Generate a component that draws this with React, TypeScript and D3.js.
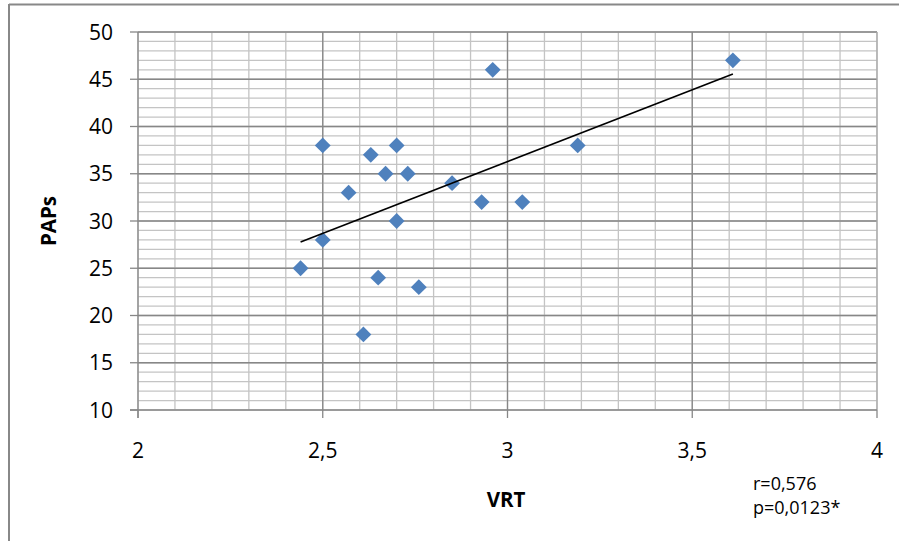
import React from "react";
import * as d3 from "d3";

// VRT (x) vs PAPs (y) per patient
const vrtValues = [2.44, 2.5, 2.5, 2.57, 2.61, 2.63, 2.65, 2.67, 2.7, 2.7, 2.73, 2.76, 2.85, 2.93, 2.96, 3.04, 3.19, 3.61];
const papsValues = [25, 38, 28, 33, 18, 37, 24, 35, 38, 30, 35, 23, 34, 32, 46, 32, 38, 47];

const xTicks = [2, 2.5, 3, 3.5, 4];
const yTicks = [10, 15, 20, 25, 30, 35, 40, 45, 50];
const statLines = ["r=0,576", "p=0,0123*"];

const W = 899;
const H = 541;
const left = 138;
const right = 877;
const top = 32;
const bottom = 410;

const FONT = "'Open Sans', 'Noto Sans', sans-serif";

export default function App() {
  const x = d3.scaleLinear().domain([2, 4]).range([left, right]);
  const y = d3.scaleLinear().domain([10, 50]).range([bottom, top]);

  const fmt = (v: number) => String(v).replace(".", ",");

  // least-squares trend line over the observed VRT range
  const mx = d3.mean(vrtValues)!;
  const my = d3.mean(papsValues)!;
  const sxy = d3.sum(vrtValues, (v, i) => (v - mx) * (papsValues[i] - my));
  const sxx = d3.sum(vrtValues, (v) => (v - mx) * (v - mx));
  const slope = sxy / sxx;
  const intercept = my - slope * mx;
  const [x0, x1] = d3.extent(vrtValues) as [number, number];
  const trend = d3.line<number>().x((v) => x(v)).y((v) => y(intercept + slope * v))([x0, x1]);

  const minorX = d3.range(2, 4.0001, 0.1).map((v) => +v.toFixed(2));
  const minorY = d3.range(10, 50.001, 1);

  const diamond = d3.symbol().type(d3.symbolDiamond2).size(160)();

  return (
    <svg width={W} height={H} style={{ position: "absolute", left: 0, top: 0, background: "#fff" }}>
      {/* outer chart frame */}
      <line x1={9} y1={4.5} x2={W} y2={4.5} stroke="#888" strokeWidth={2} />
      <line x1={9} y1={4} x2={9} y2={H} stroke="#888" strokeWidth={2} />

      {/* minor grid */}
      {minorX.map((v) => (
        <line key={"mx" + v} x1={x(v)} x2={x(v)} y1={top} y2={bottom} stroke="#c4c4c4" strokeWidth={1.3} />
      ))}
      {minorY.map((v) => (
        <line key={"my" + v} x1={left} x2={right} y1={y(v)} y2={y(v)} stroke="#c4c4c4" strokeWidth={1.3} />
      ))}
      {/* major grid */}
      {xTicks.slice(1, -1).map((v) => (
        <line key={"gx" + v} x1={x(v)} x2={x(v)} y1={top} y2={bottom} stroke="#878787" strokeWidth={1.3} />
      ))}
      {yTicks.slice(1).map((v) => (
        <line key={"gy" + v} x1={left} x2={right} y1={y(v)} y2={y(v)} stroke="#878787" strokeWidth={1.3} />
      ))}
      <line x1={right} x2={right} y1={top} y2={bottom} stroke="#aaa" strokeWidth={1.3} />

      {/* axes */}
      <line x1={left} x2={left} y1={top} y2={bottom + 8} stroke="#878787" strokeWidth={1.3} />
      <line x1={left - 8} x2={right} y1={bottom} y2={bottom} stroke="#878787" strokeWidth={1.3} />
      {yTicks.map((v) => (
        <g key={"yt" + v}>
          <line x1={left - 8} x2={left} y1={y(v)} y2={y(v)} stroke="#878787" strokeWidth={1.3} />
          <text x={113} y={y(v)} dy="0.36em" textAnchor="end" fontFamily={FONT} fontSize={21} fill="#000">
            {v}
          </text>
        </g>
      ))}
      {xTicks.map((v) => (
        <g key={"xt" + v}>
          <line x1={x(v)} x2={x(v)} y1={bottom} y2={bottom + 8} stroke="#878787" strokeWidth={1.3} />
          <text x={x(v)} y={458} textAnchor="middle" fontFamily={FONT} fontSize={21} fill="#000">
            {fmt(v)}
          </text>
        </g>
      ))}

      {/* axis titles */}
      <text x={506} y={507} textAnchor="middle" fontFamily={FONT} fontSize={20.5} fontWeight="bold" fill="#000">
        VRT
      </text>
      <text
        transform={`translate(56, ${(top + bottom) / 2}) rotate(-90)`}
        textAnchor="middle"
        fontFamily={FONT}
        fontSize={20.5}
        fontWeight="bold"
        fill="#000"
      >
        PAPs
      </text>

      {/* data points */}
      {vrtValues.map((v, i) => (
        <path key={"p" + i} d={diamond!} transform={`translate(${x(v)},${y(papsValues[i])})`} fill="#4F81BD" />
      ))}

      {/* trend line */}
      <path d={trend!} fill="none" stroke="#000" strokeWidth={1.6} />

      {/* statistics */}
      {statLines.map((s, i) => (
        <text key={s} x={753} y={490 + i * 23.5} fontFamily={FONT} fontSize={18} fill="#000">
          {s}
        </text>
      ))}
    </svg>
  );
}
